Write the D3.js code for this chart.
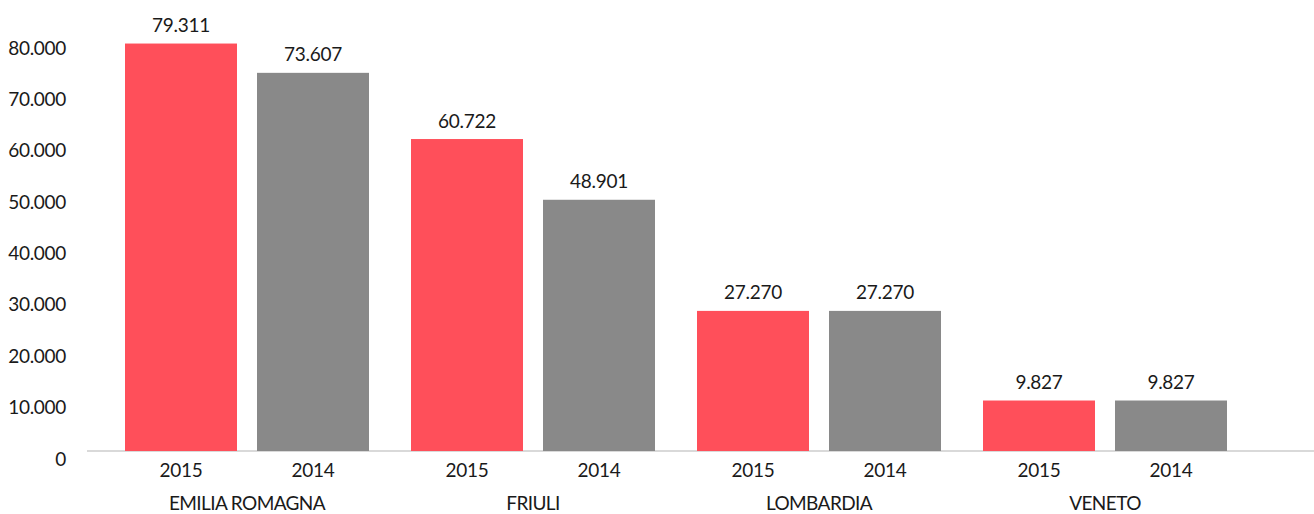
<!DOCTYPE html>
<html>
<head>
<meta charset="utf-8">
<script src="https://cdn.jsdelivr.net/npm/d3@7"></script>
<style>
  html, body { margin: 0; padding: 0; background: #fff; }
  svg { display: block; }
  text { font-family: Lato, "Open Sans", sans-serif; fill: #1a1a1a; }
</style>
</head>
<body>
<svg id="chart" width="1314" height="514"></svg>
<script>
const regions = ["EMILIA ROMAGNA", "FRIULI", "LOMBARDIA", "VENETO"];
const years = ["2015", "2014"];
const values2015 = [79311, 60722, 27270, 9827];
const values2014 = [73607, 48901, 27270, 9827];
const yTicks = [0, 10000, 20000, 30000, 40000, 50000, 60000, 70000, 80000];
const colors = ["#ff4f5a", "#898989"];

const svg = d3.select("#chart");
const itLocale = d3.formatLocale({ decimal: ",", thousands: ".", grouping: [3], currency: ["€", ""] });
const fmt = itLocale.format(",d");

const y = d3.scaleLinear().domain([0, 80000]).range([451, 40]);
const x0 = d3.scaleBand().domain(regions).range([104, 1248]).padding(0);
const x1 = d3.scaleBand().domain(years).range([21, 265]).paddingInner(20 / 132).paddingOuter(0);

const series = [values2015, values2014];
const data = regions.map((r, i) => ({
  region: r,
  vals: years.map((yr, j) => ({ year: yr, value: series[j][i], color: colors[j] }))
}));

// axis baseline
svg.append("line")
  .attr("x1", 87).attr("x2", 1314)
  .attr("y1", y(0)).attr("y2", y(0))
  .attr("stroke", "#d9d9d9").attr("stroke-width", 2);

// y tick labels
svg.append("g").selectAll("text").data(yTicks).join("text")
  .attr("x", 66)
  .attr("y", d => y(d) + 7)
  .attr("text-anchor", "end")
  .attr("dominant-baseline", "central")
  .attr("font-size", 19)
  .attr("letter-spacing", -0.3)
  .text(d => fmt(d));

const groups = svg.append("g").selectAll("g").data(data).join("g")
  .attr("transform", d => `translate(${x0(d.region)},0)`);

groups.selectAll("rect").data(d => d.vals).join("rect")
  .attr("x", d => x1(d.year))
  .attr("width", x1.bandwidth())
  .attr("y", d => y(d.value))
  .attr("height", d => y(0) - y(d.value))
  .attr("fill", d => d.color);

groups.selectAll("text.val").data(d => d.vals).join("text")
  .attr("class", "val")
  .attr("x", d => x1(d.year) + x1.bandwidth() / 2)
  .attr("y", d => y(d.value) - 19)
  .attr("text-anchor", "middle")
  .attr("dominant-baseline", "central")
  .attr("font-size", 19)
  .attr("letter-spacing", -0.3)
  .text(d => fmt(d.value));

groups.selectAll("text.yr").data(d => d.vals).join("text")
  .attr("class", "yr")
  .attr("x", d => x1(d.year) + x1.bandwidth() / 2)
  .attr("y", 469)
  .attr("text-anchor", "middle")
  .attr("dominant-baseline", "central")
  .attr("font-size", 19)
  .attr("letter-spacing", -0.3)
  .text(d => d.year);

groups.append("text")
  .attr("x", x0.bandwidth() / 2)
  .attr("y", 502)
  .attr("text-anchor", "middle")
  .attr("dominant-baseline", "central")
  .attr("font-size", 19)
  .attr("letter-spacing", -0.6)
  .text(d => d.region);
</script>
</body>
</html>
